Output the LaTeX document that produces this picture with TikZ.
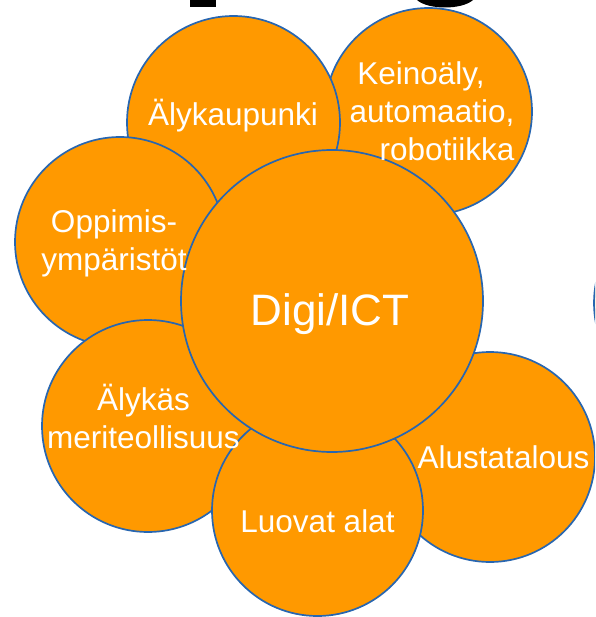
\documentclass[tikz,border=0pt]{standalone}
\usepackage{fontspec}
\setmainfont{Liberation Sans}
\usepackage{xcolor}
\usepackage{tikz}
\usetikzlibrary{shapes.geometric}
\definecolor{oranssi}{RGB}{255,153,0}
\definecolor{reuna}{RGB}{40,102,176}

\begin{document}
\begin{tikzpicture}[x=1pt, y=-1pt, bubble/.style = {circle, draw=reuna, line width=1.7pt, fill=oranssi, inner sep=0pt, outer sep=0pt}]
	\tikzset{teksti/.style={text=white, font=\fontsize{31.5}{37.8}\selectfont, align=center, inner sep=0pt}}
	\useasboundingbox (0,0) rectangle (595,617);
	\clip (0,0) rectangle (595,617);

	% Otsikon alareuna
	\fill (190,0) rectangle (216,7);
	\fill (417,0) .. controls (428,10) and (462,10) .. (473,0) -- cycle;

	% Ympyrat
	\node[bubble, minimum size=212pt] (oikea) at (700,303) {};
	\node[bubble, minimum size=207pt] (keino) at (428.5,111.5) {};
	\node[bubble, minimum size=213pt] (kaupunki) at (233.5,122.5) {};
	\node[bubble, minimum size=210pt] (oppi) at (120,242) {};
	\node[bubble, minimum size=212pt] (meri) at (148,426) {};
	\node[bubble, minimum size=210pt] (alusta) at (490,457) {};
	\node[bubble, minimum size=211pt] (luova) at (317.5,510.5) {};
	\node[bubble, minimum size=302pt] (digi) at (332,301) {};

	% Tekstit
	\node[teksti, anchor=base] (kaupunkiteksti) at (233,126) {Älykaupunki};
	\node[teksti] (keinoteksti) at (432,111.5) {\hspace*{-22pt}Keinoäly,\\automaatio,\\\hspace*{30pt}robotiikka};
	\node[teksti] (oppiteksti) at (114,243.5) {Oppimis-\\ympäristöt};
	\node[teksti, font=\fontsize{44}{53}\selectfont, anchor=base] (digiteksti) at (330,325) {Digi/ICT};
	\node[teksti] (meriteksti) at (143.5,416.5) {Älykäs\\meriteollisuus};
	\node[teksti, anchor=base] (alustateksti) at (503.5,468) {Alustatalous};
	\node[teksti, anchor=base] (luovateksti) at (317.5,532) {Luovat alat};

\end{tikzpicture}
\end{document}
